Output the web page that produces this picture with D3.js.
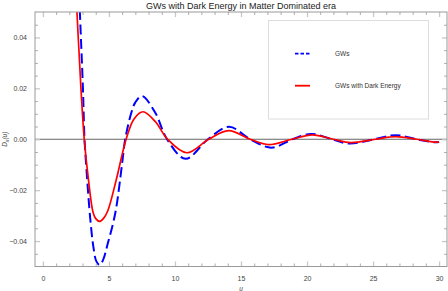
<!DOCTYPE html>
<html>
<head>
<meta charset="utf-8">
<script src="https://cdn.jsdelivr.net/npm/d3@7"></script>
<style>
  body { margin: 0; background: #fff; }
  svg { display: block; font-family: "Liberation Sans", Arial, sans-serif; }
  .axis path { display: none; }
  .axis text { fill: #444; font-size: 7px; }
</style>
</head>
<body>
<div id="chart"></div>
<script>
var width = 448;
var height = 291;

// values (u, D)
var gwU = [2.55, 2.8, 3.03, 3.15, 3.3, 3.58, 3.83, 4.05, 4.3, 4.55, 4.92, 5.48, 6.0, 6.23, 6.7, 7.0, 7.5, 8.5, 9.4, 10.8, 12.5, 14.1, 15.7, 17.3, 18.9, 20.3, 21.9, 23.2, 25.1, 26.7, 28.3, 29.7, 30];
var gwD = [0.085, 0.0498, 0.02, 0.0, -0.012, -0.031, -0.0426, -0.048, -0.0494, -0.0475, -0.0408, -0.029, -0.0094, 0.0, 0.0105, 0.0145, 0.017, 0.0105, 0.0, -0.0077, 0.0, 0.0049, 0.0, -0.0033, 0.0, 0.0021, 0.0, -0.0017, 0.0, 0.0016, 0.0, -0.0012, -0.0011];

var deU = [2.3, 2.58, 2.88, 3.13, 3.45, 3.8, 4.0, 4.29, 4.6, 4.9, 5.55, 6.3, 6.9, 7.58, 8.5, 9.44, 10.9, 12.55, 14.06, 15.7, 17.09, 18.86, 20.4, 22.0, 23.3, 25.2, 26.7, 28.3, 29.6, 30];
var deD = [0.082, 0.0498, 0.02, 0.0, -0.016, -0.0288, -0.0312, -0.0323, -0.031, -0.0283, -0.016, 0.0, 0.008, 0.0108, 0.007, 0.0, -0.0053, 0.0, 0.0034, 0.0, -0.0021, 0.0, 0.0017, 0.0, -0.0013, 0.0, 0.001, 0.0, -0.0011, -0.0011];

var xMajor = [0, 5, 10, 15, 20, 25, 30];
var yMajor = [-0.04, -0.02, 0.0, 0.02, 0.04];
var legendLabels = ["GWs", "GWs with Dark Energy"];

var plotLeft = 35, plotRight = 447, plotTop = 12, plotBottom = 266.5;

var svg = d3.select("#chart").append("svg")
  .attr("width", width)
  .attr("height", height);

var xScale = d3.scaleLinear().domain([-0.6, 30.6]).range([plotLeft, plotRight]);
var yScale = d3.scaleLinear().domain([-0.05, 0.05]).range([plotBottom, plotTop]);

var xMinor = d3.range(0, 31).filter(function(v) { return v % 5 !== 0; });
var yMinor = d3.range(-9, 10).filter(function(k) { return k % 4 !== 0; })
  .map(function(k) { return k * 0.005; });

// zero line
svg.append("line")
  .attr("x1", plotLeft).attr("x2", plotRight)
  .attr("y1", yScale(0)).attr("y2", yScale(0))
  .attr("stroke", "#666").attr("stroke-width", 1);

// curves
svg.append("clipPath").attr("id", "clip")
  .append("rect").attr("x", plotLeft).attr("y", plotTop)
  .attr("width", plotRight - plotLeft).attr("height", plotBottom - plotTop);

var line = d3.line()
  .x(function(d) { return xScale(d[0]); })
  .y(function(d) { return yScale(d[1]); })
  .curve(d3.curveCatmullRom.alpha(0.5));

var plot = svg.append("g").attr("clip-path", "url(#clip)");

plot.append("path")
  .datum(d3.zip(gwU, gwD))
  .attr("d", line)
  .attr("fill", "none")
  .attr("stroke", "#0000ff")
  .attr("stroke-width", 2)
  .attr("stroke-dasharray", "10,4.5");

plot.append("path")
  .datum(d3.zip(deU, deD))
  .attr("d", line)
  .attr("fill", "none")
  .attr("stroke", "#ff0000")
  .attr("stroke-width", 1.7);

// frame ticks (pointing inward)
function addAxis(axis, tr, major) {
  var g = svg.append("g").attr("class", "axis").attr("transform", tr).call(axis);
  g.selectAll(".tick line")
    .attr("stroke", major ? "#c8c8c8" : "#999")
    .attr("stroke-width", major ? 1.3 : 0.8);
  return g;
}

addAxis(d3.axisBottom(xScale).tickValues(xMajor).tickSize(-5).tickPadding(10).tickFormat(d3.format("d")),
  "translate(0," + plotBottom + ")", true);
addAxis(d3.axisBottom(xScale).tickValues(xMinor).tickSize(-3).tickFormat(""),
  "translate(0," + plotBottom + ")", false);
addAxis(d3.axisTop(xScale).tickValues(xMajor).tickSize(-5).tickFormat(""),
  "translate(0," + plotTop + ")", true);
addAxis(d3.axisTop(xScale).tickValues(xMinor).tickSize(-3).tickFormat(""),
  "translate(0," + plotTop + ")", false);

addAxis(d3.axisLeft(yScale).tickValues(yMajor).tickSize(-5).tickPadding(8).tickFormat(function(d) {
  return d3.format(".2f")(d).replace("-", "\u2212");
}), "translate(" + plotLeft + ",0)", true);
addAxis(d3.axisLeft(yScale).tickValues(yMinor).tickSize(-3).tickFormat(""),
  "translate(" + plotLeft + ",0)", false);
addAxis(d3.axisRight(yScale).tickValues(yMajor).tickSize(-5).tickFormat(""),
  "translate(" + plotRight + ",0)", true);
addAxis(d3.axisRight(yScale).tickValues(yMinor).tickSize(-3).tickFormat(""),
  "translate(" + plotRight + ",0)", false);

// frame
svg.append("rect")
  .attr("x", plotLeft).attr("y", plotTop)
  .attr("width", plotRight - plotLeft).attr("height", plotBottom - plotTop)
  .attr("fill", "none").attr("stroke", "#999").attr("stroke-width", 1);

// title and axis labels
svg.append("text")
  .attr("x", 241).attr("y", 8.5)
  .attr("text-anchor", "middle")
  .attr("font-size", 9)
  .attr("fill", "#222")
  .text("GWs with Dark Energy in Matter Dominated era");

svg.append("text")
  .attr("x", 241).attr("y", 291)
  .attr("text-anchor", "middle")
  .attr("font-size", 6.5)
  .attr("font-style", "italic")
  .attr("fill", "#444")
  .text("u");

var yl = svg.append("text")
  .attr("transform", "translate(7," + yScale(0) + ") rotate(-90)")
  .attr("text-anchor", "middle")
  .attr("font-size", 6.5)
  .attr("font-style", "italic")
  .attr("fill", "#444");
yl.append("tspan").text("D");
yl.append("tspan").attr("font-size", 4.5).attr("dy", 1.5).text("n");
yl.append("tspan").attr("dy", -1.5).text("(u)");

// legend
var legend = svg.append("g");
legend.append("rect")
  .attr("x", 268.5).attr("y", 20.5)
  .attr("width", 160).attr("height", 98.5)
  .attr("fill", "#fff")
  .attr("stroke", "#ddd").attr("stroke-width", 1);

var legendStyles = [
  { color: "#0000ff", dash: "3.5,2", y: 53.7 },
  { color: "#ff0000", dash: null, y: 85.7 }
];
legendLabels.forEach(function(label, i) {
  var s = legendStyles[i];
  legend.append("line")
    .attr("x1", 295).attr("x2", 310)
    .attr("y1", s.y).attr("y2", s.y)
    .attr("stroke", s.color).attr("stroke-width", 1.8)
    .attr("stroke-dasharray", s.dash);
  legend.append("text")
    .attr("x", 335).attr("y", s.y + 2.3)
    .attr("font-size", 6.5)
    .attr("fill", "#333")
    .text(label);
});
</script>
</body>
</html>
